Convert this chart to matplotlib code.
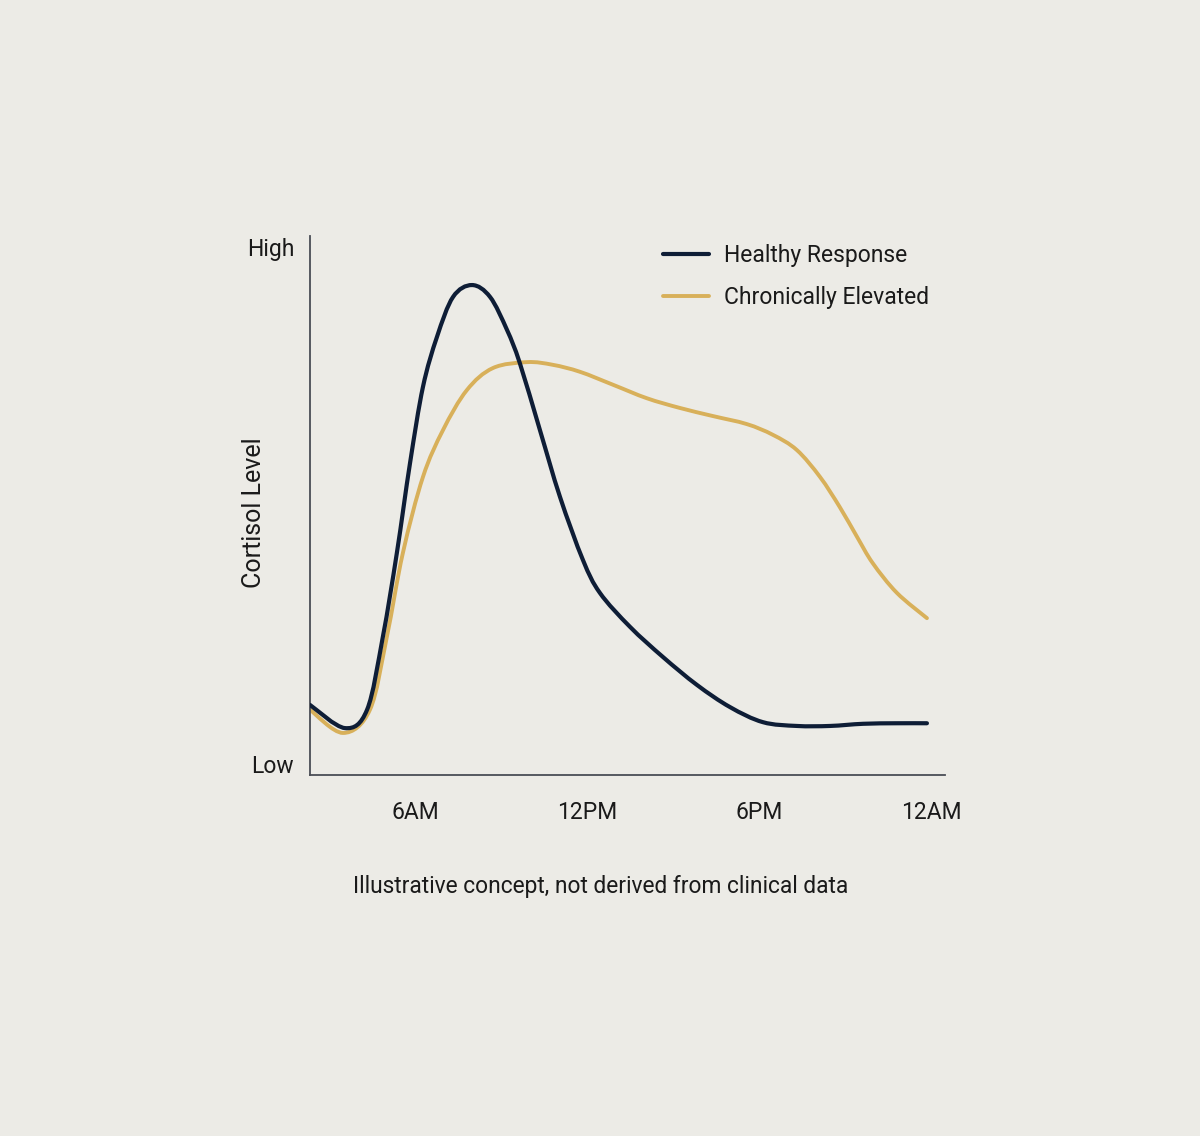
import matplotlib
matplotlib.use("Agg")
import matplotlib.pyplot as plt
from matplotlib.path import Path
from matplotlib.patches import PathPatch
from matplotlib.lines import Line2D

# ---- data (hours of day, relative cortisol level 0-100) ----
healthy_hours = [2.34, 3.56, 4.33, 4.88, 5.37, 5.83, 6.28, 6.77, 7.33, 7.99,
                 8.62, 9.21, 9.66, 10.36, 11.06, 11.86, 12.45, 13.50, 14.65,
                 15.84, 16.99, 18.14, 19.32, 20.48, 21.63, 22.81, 23.86]
healthy_level = [13.0, 8.7, 12.1, 25.6, 41.2, 57.9, 72.0, 81.3, 88.7, 90.9,
                 88.7, 82.6, 76.4, 64.0, 51.6, 39.9, 33.8, 27.5, 21.9,
                 16.7, 12.6, 9.8, 9.1, 9.1, 9.5, 9.6, 9.6]

elevated_hours = [2.34, 3.49, 4.43, 5.02, 5.58, 6.28, 6.98, 7.81, 8.72, 9.91,
                  10.81, 11.76, 12.91, 14.09, 15.24, 16.39, 17.58, 18.49,
                  19.32, 20.13, 20.82, 21.42, 21.97, 22.81, 23.86]
elevated_level = [12.1, 7.8, 12.1, 25.6, 41.2, 55.3, 64.0, 71.4, 75.5, 76.6,
                  76.1, 74.8, 72.4, 69.9, 68.1, 66.6, 65.1, 63.1,
                  60.3, 55.3, 49.7, 44.2, 39.3, 33.8, 29.1]

x_ticks = [6, 12, 18, 24]
x_tick_labels = ["6AM", "12PM", "6PM", "12AM"]
y_ticks = [2, 98]
y_tick_labels = ["Low", "High"]
series_names = ["Healthy Response", "Chronically Elevated"]

BG = "#ECEBE6"
NAVY = "#0E1D36"
GOLD = "#D8B05A"
TEXT = "#1A1A1A"

plt.rcParams['font.family'] = ['Roboto', 'DejaVu Sans']


def smooth_path(xs, ys):
    """Catmull-Rom curve through the given points, as cubic Bezier segments."""
    pts = list(zip(xs, ys))
    n = len(pts)
    verts = [pts[0]]
    codes = [Path.MOVETO]
    for i in range(n - 1):
        p0 = pts[i - 1] if i > 0 else pts[i]
        p1 = pts[i]
        p2 = pts[i + 1]
        p3 = pts[i + 2] if i + 2 < n else pts[i + 1]
        c1 = (p1[0] + (p2[0] - p0[0]) / 6, p1[1] + (p2[1] - p0[1]) / 6)
        c2 = (p2[0] - (p3[0] - p1[0]) / 6, p2[1] - (p3[1] - p1[1]) / 6)
        verts += [c1, c2, p2]
        codes += [Path.CURVE4] * 3
    return Path(verts, codes)


fig = plt.figure(figsize=(12, 11.36), dpi=100, facecolor=BG)
ax = fig.add_axes([310/1200, 1-775/1136, (945-310)/1200, (775-236)/1136])
ax.set_facecolor(BG)

ax.add_patch(PathPatch(smooth_path(elevated_hours, elevated_level), fill=False,
                       edgecolor=GOLD, lw=2.8, capstyle='round', joinstyle='round', zorder=2))
ax.add_patch(PathPatch(smooth_path(healthy_hours, healthy_level), fill=False,
                       edgecolor=NAVY, lw=3.0, capstyle='round', joinstyle='round', zorder=3))

ax.set_xlim(2.34, 24.49)
ax.set_ylim(0, 100)

for s in ['top', 'right']:
    ax.spines[s].set_visible(False)
for s in ['left', 'bottom']:
    ax.spines[s].set_color('#4A4D55')
    ax.spines[s].set_linewidth(1.3)

ax.set_xticks(x_ticks)
ax.set_xticklabels(x_tick_labels, fontsize=16.5, color=TEXT)
ax.set_yticks(y_ticks)
ax.set_yticklabels(y_tick_labels, fontsize=16.5, color=TEXT)
ax.tick_params(axis='x', length=0, pad=18.5)
ax.tick_params(axis='y', length=0, pad=11.4)

ax.set_ylabel("Cortisol Level", fontsize=18, color=TEXT)
ax.yaxis.set_label_coords(-0.070, 0.487)

handles = [Line2D([], [], color=NAVY, lw=3.0, solid_capstyle='round'),
           Line2D([], [], color=GOLD, lw=2.8, solid_capstyle='round')]
leg = fig.legend(handles, series_names,
                 loc='upper left', bbox_to_anchor=(663/1200, 1-244/1136),
                 frameon=False, fontsize=16.5, handlelength=2.0,
                 handletextpad=0.65, labelspacing=0.84, borderpad=0,
                 borderaxespad=0)
for t in leg.get_texts():
    t.set_color(TEXT)

fig.text(601/1200, 1-886/1136, "Illustrative concept, not derived from clinical data",
         ha='center', va='center', fontsize=16.4, color=TEXT)

fig.savefig("out.png", dpi=100, facecolor=BG)
